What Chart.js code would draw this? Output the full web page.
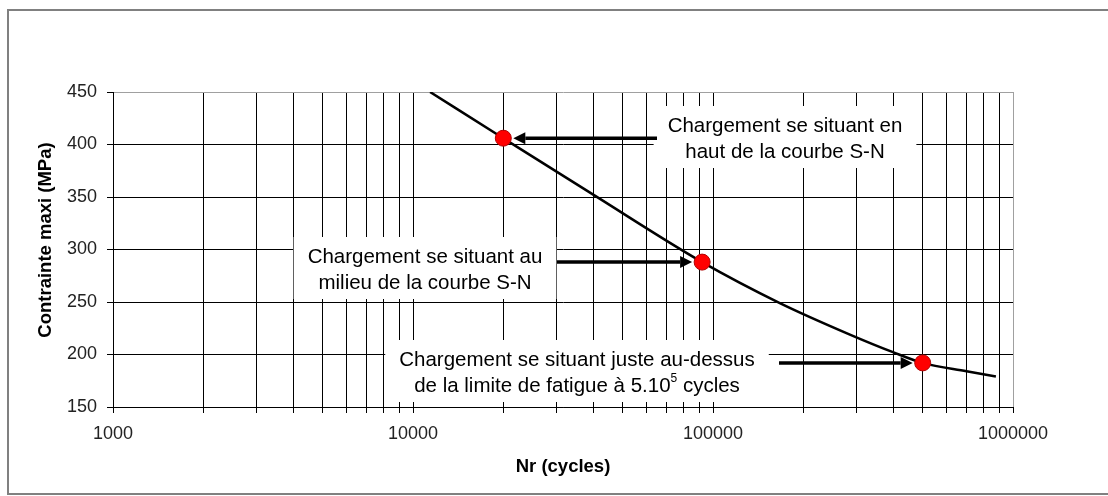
<!DOCTYPE html>
<html><head><meta charset="utf-8">
<script src="https://cdn.jsdelivr.net/npm/chart.js@4.4.1/dist/chart.umd.min.js"></script>
<style>html,body{margin:0;padding:0;background:#fff;} #wrap{width:1108px;height:496px;}</style>
</head><body><div id="wrap"><canvas id="c" width="1108" height="496"></canvas></div>
<script>
// ---- data ----
const curveN = [11400, 20000, 40000, 92000, 167000, 286000, 400000, 500000, 700000, 877000];
const curveS = [450, 406, 352, 288, 249, 219, 202, 192, 184, 179];
const pointN = [20000, 92000, 500000];
const pointS = [406, 288, 192];
const xTickLabels = ['1000', '10000', '100000', '1000000'];
const xMin = 1000, xMax = 1000000;
const yMin = 150, yMax = 450, yStep = 50;
const xTitle = 'Nr (cycles)';
const yTitle = 'Contrainte maxi (MPa)';
const noteLines = [
  [[['Chargement se situant en', 0]], [['haut de la courbe S-N', 0]]],
  [[['Chargement se situant au', 0]], [['milieu de la courbe S-N', 0]]],
  [[['Chargement se situant juste au-dessus', 0]], [['de la limite de fatigue à 5.10', 0], ['5', 1], [' cycles', 0]]]
];

// ---- layout / style ----
const FONT = '"Liberation Sans", Arial, Helvetica, sans-serif';
const noteLayout = [
  {cx: 785, y1: 126, arrowFrom: 657, dir: -1},
  {cx: 425, y1: 257, arrowFrom: 557, dir: 1},
  {cx: 577, y1: 360, arrowFrom: 779, dir: 1}
];

const xTickValues = [];
[1000, 10000, 100000].forEach(d => { for (let m = 1; m <= 9; m++) xTickValues.push(m * d); });
xTickValues.push(1000000);

function drawSegs(ctx, segs, cx, y) {
  const nf = '20.5px ' + FONT, sf = '12px ' + FONT;
  let total = 0;
  segs.forEach(s => { ctx.font = s[1] ? sf : nf; total += ctx.measureText(s[0]).width; });
  let x = cx - total / 2;
  ctx.textAlign = 'left';
  ctx.textBaseline = 'middle';
  segs.forEach(s => {
    ctx.font = s[1] ? sf : nf;
    ctx.fillText(s[0], x, s[1] ? y - 7 : y);
    x += ctx.measureText(s[0]).width;
  });
  return total;
}
function segWidth(ctx, segs) {
  let t = 0;
  segs.forEach(s => { ctx.font = (s[1] ? '12px ' : '20.5px ') + FONT; t += ctx.measureText(s[0]).width; });
  return t;
}

const decor = {
  id: 'decor',
  beforeDraw(chart) {
    const ctx = chart.ctx;
    ctx.save();
    ctx.strokeStyle = '#808080';
    ctx.lineWidth = 2;
    ctx.strokeRect(8, 10, 1300, 484);
    ctx.restore();
  },
  beforeDatasetsDraw(chart) {
    const ctx = chart.ctx;
    const xs = chart.scales.x, ys = chart.scales.y;
    ctx.save();
    noteLines.forEach((lines, i) => {
      const L = noteLayout[i];
      const w = Math.max(...lines.map(l => segWidth(ctx, l)));
      const y2 = L.y1 + 26;
      ctx.fillStyle = '#fff';
      ctx.fillRect(L.cx - w / 2 - 14, L.y1 - 20, w + 28, y2 + 16 - (L.y1 - 20));
      ctx.fillStyle = '#000';
      drawSegs(ctx, lines[0], L.cx, L.y1);
      drawSegs(ctx, lines[1], L.cx, y2);
      // arrow to marker
      const mx = xs.getPixelForValue(pointN[i]);
      const my = ys.getPixelForValue(pointS[i]);
      const tip = mx - L.dir * 10;
      const head = 12, hw = 6;
      ctx.strokeStyle = '#000';
      ctx.lineWidth = 3.5;
      ctx.beginPath();
      ctx.moveTo(L.arrowFrom, my);
      ctx.lineTo(tip - L.dir * head, my);
      ctx.stroke();
      ctx.beginPath();
      ctx.moveTo(tip, my);
      ctx.lineTo(tip - L.dir * head, my - hw);
      ctx.lineTo(tip - L.dir * head, my + hw);
      ctx.closePath();
      ctx.fill();
    });
    ctx.restore();
  },
  afterDraw(chart) {
    const ctx = chart.ctx;
    ctx.save();
    ctx.translate(46, 240);
    ctx.rotate(-Math.PI / 2);
    ctx.font = 'bold 18.5px ' + FONT;
    ctx.fillStyle = '#000';
    ctx.textAlign = 'center';
    ctx.textBaseline = 'middle';
    ctx.fillText(yTitle, 0, 0);
    ctx.restore();
  }
};

new Chart(document.getElementById('c'), {
  type: 'scatter',
  data: {
    datasets: [
      {
        data: pointN.map((n, i) => ({x: n, y: pointS[i]})),
        pointRadius: 8,
        pointBackgroundColor: '#ff0000',
        pointBorderColor: '#b00000',
        pointBorderWidth: 1,
        showLine: false
      },
      {
        data: curveN.map((n, i) => ({x: n, y: curveS[i]})),
        showLine: true,
        borderColor: '#000',
        borderWidth: 2.5,
        pointRadius: 0,
        cubicInterpolationMode: 'monotone',
        fill: false
      }
    ]
  },
  options: {
    responsive: false,
    animation: false,
    devicePixelRatio: 1,
    layout: {padding: {top: 92, right: 95, left: 0, bottom: 0}},
    plugins: {legend: {display: false}, tooltip: {enabled: false}},
    scales: {
      x: {
        type: 'logarithmic',
        min: xMin, max: xMax,
        afterBuildTicks: s => { s.ticks = xTickValues.map(v => ({value: v})); },
        afterFit: s => { s.height = 89; },
        ticks: {
          autoSkip: false, maxRotation: 0, minRotation: 0, padding: 10,
          color: '#222', font: {family: FONT, size: 18},
          callback: v => xTickLabels.includes(String(v)) ? String(v) : ''
        },
        grid: {
          color: c => (c.tick && c.tick.value === xMax) ? '#a0a0a0' : '#000',
          lineWidth: 1, tickLength: 6, tickColor: '#000'
        },
        border: {color: '#000', width: 1},
        title: {display: true, text: xTitle, color: '#000',
          font: {family: FONT, size: 18.5, weight: 'bold'}, padding: {top: 0, bottom: 18}}
      },
      y: {
        min: yMin, max: yMax,
        afterFit: s => { s.width = 113; },
        ticks: {stepSize: yStep, padding: 10, color: '#222', font: {family: FONT, size: 18}},
        grid: {
          color: c => (c.tick && c.tick.value === yMax) ? '#a0a0a0' : '#000',
          lineWidth: 1, tickLength: 6, tickColor: '#000'
        },
        border: {color: '#000', width: 1}
      }
    }
  },
  plugins: [decor]
});
</script>
</body></html>
